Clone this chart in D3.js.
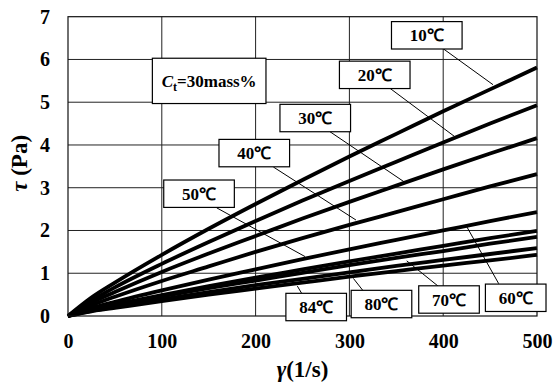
<!DOCTYPE html>
<html>
<head>
<meta charset="utf-8">
<script src="https://cdn.jsdelivr.net/npm/d3@7"></script>
<style>
  html, body { margin: 0; padding: 0; background: #fff; }
  svg { display: block; }
  svg text { font-family: 'Liberation Serif', 'Times New Roman', serif !important; font-weight: bold; fill: #000; }
</style>
</head>
<body>
<script>
// ---------- data ----------
const shearRate = [0, 25, 50, 100, 150, 200, 250, 300, 350, 400, 450, 500];
const temperatures = ["10℃", "20℃", "30℃", "40℃", "50℃", "60℃", "70℃", "80℃", "84℃"];
const stress10 = [0, 0.43, 0.78, 1.43, 2.04, 2.62, 3.18, 3.73, 4.26, 4.79, 5.30, 5.81];
const stress20 = [0, 0.36, 0.67, 1.22, 1.73, 2.22, 2.70, 3.16, 3.61, 4.06, 4.50, 4.93];
const stress30 = [0, 0.31, 0.56, 1.03, 1.46, 1.87, 2.28, 2.67, 3.05, 3.43, 3.80, 4.16];
const stress40 = [0, 0.25, 0.45, 0.82, 1.16, 1.50, 1.82, 2.13, 2.43, 2.73, 3.03, 3.32];
const stress50 = [0, 0.18, 0.33, 0.60, 0.85, 1.09, 1.33, 1.56, 1.78, 2.00, 2.22, 2.43];
const stress60 = [0, 0.15, 0.27, 0.49, 0.70, 0.90, 1.09, 1.28, 1.46, 1.64, 1.82, 1.99];
const stress70 = [0, 0.14, 0.25, 0.46, 0.65, 0.83, 1.01, 1.19, 1.36, 1.52, 1.69, 1.85];
const stress80 = [0, 0.12, 0.21, 0.39, 0.56, 0.72, 0.87, 1.02, 1.17, 1.31, 1.45, 1.59];
const stress84 = [0, 0.11, 0.19, 0.35, 0.50, 0.64, 0.78, 0.92, 1.05, 1.18, 1.30, 1.43];
const allStress = [stress10, stress20, stress30, stress40, stress50, stress60, stress70, stress80, stress84];

const xTicks = [0, 100, 200, 300, 400, 500];
const yTicks = [0, 1, 2, 3, 4, 5, 6, 7];

// label anchors in data units (gamma, tau): box centre, leader start, leader end
const labelBoxGamma = [382.5, 327.0, 263.6, 198.6, 139.7, 477.3, 406.2, 334.2, 264.6];
const labelBoxTau   = [6.565, 5.64, 4.63, 3.81, 2.86, 0.426, 0.386, 0.28, 0.21];
const leaderFromGamma = [400.1, 343.3, 279.3, 218.9, 158.5, 459.2, 394.8, 314.8, 249.1];
const leaderFromTau   = [6.25, 5.325, 4.31, 3.485, 2.53, 0.755, 0.695, 0.585, 0.53];
const leaderToGamma   = [453.1, 412.6, 358.2, 307.0, 252.7, 425.1, 361.1, 304.2, 244.5];
const leaderToTau     = [5.41, 4.19, 3.14, 2.245, 1.39, 2.09, 1.29, 0.88, 0.70];

const concLabelGamma = 150.5, concLabelTau = 5.5;

// ---------- layout ----------
const W = 555, H = 385;
const m = { left: 68, top: 16.7, right: 18, bottom: 69 };
const iw = W - m.left - m.right, ih = H - m.top - m.bottom;

const svg = d3.select("body").append("svg").attr("width", W).attr("height", H);
const g = svg.append("g").attr("transform", `translate(${m.left},${m.top})`);

const x = d3.scaleLinear().domain([0, 500]).range([0, iw]);
const y = d3.scaleLinear().domain([0, 7]).range([ih, 0]);

// grid
g.append("g").selectAll("line").data(xTicks.slice(1, -1)).join("line")
  .attr("x1", d => x(d)).attr("x2", d => x(d)).attr("y1", 0).attr("y2", ih)
  .attr("stroke", "#222").attr("stroke-width", 1);
g.append("g").selectAll("line").data(yTicks.slice(1, -1)).join("line")
  .attr("y1", d => y(d)).attr("y2", d => y(d)).attr("x1", 0).attr("x2", iw)
  .attr("stroke", "#222").attr("stroke-width", 1);

// axes (labels only)
const xAxis = g.append("g").attr("transform", `translate(0,${ih})`)
  .call(d3.axisBottom(x).tickValues(xTicks).tickSize(0).tickPadding(18).tickFormat(d3.format("d")));
xAxis.attr("font-family", null).attr("font-size", null);
xAxis.select(".domain").remove();
xAxis.selectAll("text").attr("font-size", 20);

const yAxis = g.append("g")
  .call(d3.axisLeft(y).tickValues(yTicks).tickSize(0).tickPadding(18).tickFormat(d3.format("d")));
yAxis.attr("font-family", null).attr("font-size", null);
yAxis.select(".domain").remove();
yAxis.selectAll("text").attr("font-size", 20);

// curves
const line = d3.line().x((d, i) => x(shearRate[i])).y(d => y(d)).curve(d3.curveMonotoneX);
g.append("g").selectAll("path").data(allStress).join("path")
  .attr("d", d => line(d)).attr("fill", "none").attr("stroke", "#000").attr("stroke-width", 3.8)
  .attr("stroke-linejoin", "round");

// frame
g.append("rect").attr("x", 0).attr("y", 0).attr("width", iw).attr("height", ih)
  .attr("fill", "none").attr("stroke", "#111").attr("stroke-width", 1.2);

// leaders
g.append("g").selectAll("line").data(temperatures).join("line")
  .attr("x1", (d, i) => x(leaderFromGamma[i])).attr("y1", (d, i) => y(leaderFromTau[i]))
  .attr("x2", (d, i) => x(leaderToGamma[i])).attr("y2", (d, i) => y(leaderToTau[i]))
  .attr("stroke", "#000").attr("stroke-width", 1);

// label boxes
const lab = g.append("g").selectAll("g").data(temperatures).join("g")
  .attr("transform", (d, i) => `translate(${x(labelBoxGamma[i])},${y(labelBoxTau[i])})`);
lab.append("rect")
  .attr("x", (d, i) => -(labelBoxTau[i] < 1 ? 30.3 : 35.3)).attr("y", -13.7)
  .attr("width", (d, i) => labelBoxTau[i] < 1 ? 60.6 : 70.6).attr("height", 27.4)
  .attr("fill", "#fff").attr("stroke", "#000").attr("stroke-width", 1.2);
lab.append("text").attr("text-anchor", "middle").attr("dy", "0.36em").attr("font-size", 17)
  .text(d => d);

// concentration label
const cg = g.append("g").attr("transform", `translate(${x(concLabelGamma)},${y(concLabelTau)})`);
cg.append("rect").attr("x", -56.8).attr("y", -22.6).attr("width", 113.6).attr("height", 45.3)
  .attr("fill", "#fff").attr("stroke", "#000").attr("stroke-width", 1.2);
const ct = cg.append("text").attr("text-anchor", "middle").attr("dy", "0.35em").attr("font-size", 17);
ct.append("tspan").attr("font-style", "italic").text("C");
ct.append("tspan").attr("font-size", 12).attr("dy", 4).text("t");
ct.append("tspan").attr("dy", -4).text("=30mass%");

// axis titles
const xt = svg.append("text").attr("x", m.left + iw / 2).attr("y", 377).attr("text-anchor", "middle").attr("font-size", 23);
xt.append("tspan").attr("font-style", "italic").text("γ");
xt.append("tspan").text("(1/s)");

const yt = svg.append("text").attr("transform", `translate(27,${m.top + ih / 2 - 3}) rotate(-90)`)
  .attr("text-anchor", "middle").attr("font-size", 23);
yt.append("tspan").attr("font-style", "italic").text("τ");
yt.append("tspan").text(" (Pa)");
</script>
</body>
</html>
